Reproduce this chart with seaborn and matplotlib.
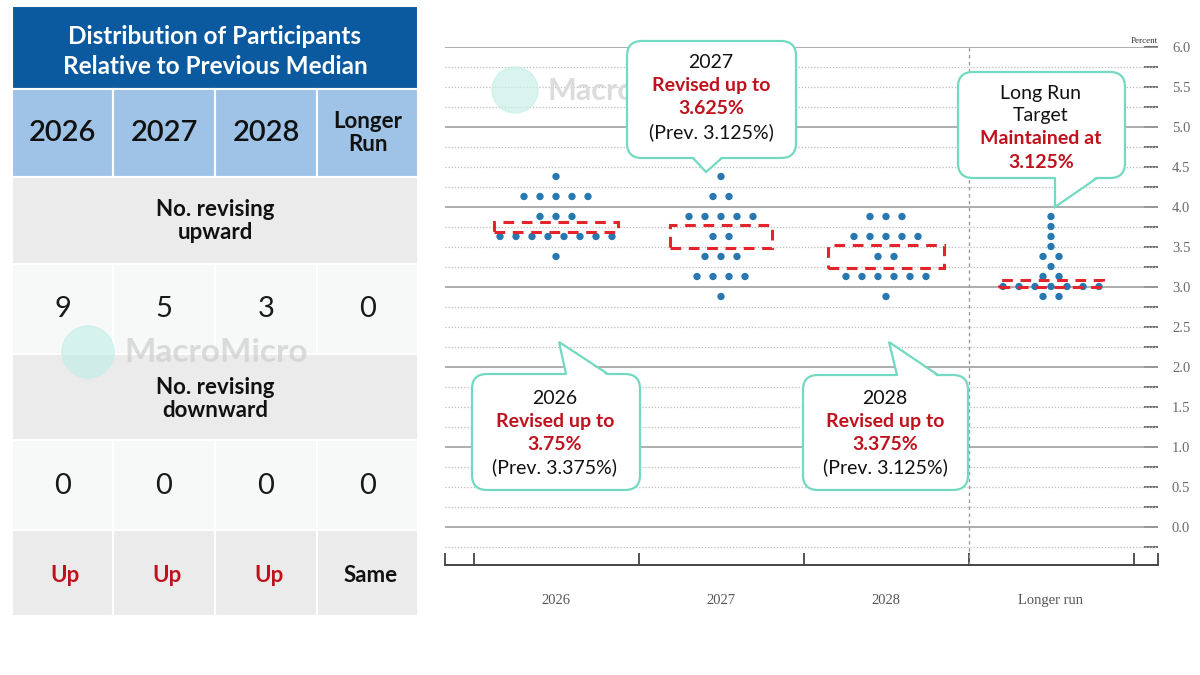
import numpy as np
import pandas as pd
import seaborn as sns
import matplotlib.pyplot as plt
from matplotlib.patches import FancyBboxPatch, Rectangle, Polygon, Circle

# ---- table data ----
years = ["2026", "2027", "2028", "Longer\nRun"]
up_counts = [9, 5, 3, 0]
down_counts = [0, 0, 0, 0]
direction = ["Up", "Up", "Up", "Same"]

# ---- dot plot data (rate level -> number of participants) ----
categories = ["2026", "2027", "2028", "Longer run"]
rates_2026 = [4.375, 4.125, 3.875, 3.625, 3.375]
counts_2026 = [1, 5, 3, 8, 1]
rates_2027 = [4.375, 4.125, 3.875, 3.625, 3.375, 3.125, 2.875]
counts_2027 = [1, 2, 5, 2, 3, 4, 1]
rates_2028 = [3.875, 3.625, 3.375, 3.125, 2.875]
counts_2028 = [3, 5, 2, 6, 1]
rates_lr = [3.875, 3.75, 3.625, 3.5, 3.375, 3.25, 3.125, 3.0, 2.875]
counts_lr = [1, 1, 1, 1, 2, 1, 2, 7, 2]
median_box = [3.75, 3.625, 3.375, 3.04]

# ---- callout texts ----
note_2026 = ["2026", "Revised up to", "3.75%", "(Prev. 3.375%)"]
note_2027 = ["2027", "Revised up to", "3.625%", "(Prev. 3.125%)"]
note_2028 = ["2028", "Revised up to", "3.375%", "(Prev. 3.125%)"]
note_lr = ["Long Run", "Target", "Maintained at", "3.125%"]

BLUE_DOT = "#2878b0"
RED = "#c0121c"
TEAL = "#72d9c3"

sns.set_theme(style="white")
plt.rcParams['font.family'] = ['Lato', 'DejaVu Sans']
SERIF = ['Liberation Serif', 'DejaVu Serif']

fig = plt.figure(figsize=(12, 6.75), dpi=100, facecolor='white')

# ---- dot plot ----
ax = fig.add_axes([445 / 1200, 1 - 565 / 675, (1158 - 445) / 1200, (565 - 46.5) / 675])
ax.set_facecolor('white')

gap = 16 / 165
recs = []
for i, (rates, counts) in enumerate(zip([rates_2026, rates_2027, rates_2028, rates_lr],
                                        [counts_2026, counts_2027, counts_2028, counts_lr])):
    for r, c in zip(rates, counts):
        for k in range(c):
            recs.append({"x": i + (k - (c - 1) / 2) * gap, "rate": r})
dots = pd.DataFrame(recs)

for v in np.arange(-0.25, 6.01, 0.25):
    if abs(v - round(v)) < 1e-9:
        ax.axhline(v, color='#a0a0a0', lw=1.2, zorder=1)
    else:
        ax.axhline(v, color='#bdbdbd', lw=0.9, ls=(0, (1, 1.5)), zorder=1)
ax.axvline(2.5, color='#9a9a9a', lw=1, ls=(0, (2.5, 2.5)), zorder=1)

sns.scatterplot(data=dots, x="x", y="rate", ax=ax, color=BLUE_DOT, s=28,
                edgecolor='none', zorder=3, legend=False)

half_w = [0.375, 0.31, 0.35, 0.315]
half_h = [0.0625, 0.14, 0.145, 0.045]
for i, m in enumerate(median_box):
    ax.add_patch(Rectangle((i - half_w[i], m - half_h[i]), 2 * half_w[i], 2 * half_h[i],
                           fill=False, ec='#e3242b', lw=2.2, ls=(0, (3.5, 2.5)), zorder=4))

ax.set_xlim((445 - 556) / 165, (1158 - 556) / 165)
ax.set_ylim(6 - (565 - 46.5) / 80, 6.0)
x0, x1 = ax.get_xlim()
ax.set_xticks([x0, -0.5, 0.5, 1.5, 2.5, 3.5, x1])
ax.set_xticklabels([])
ax.set_xticks(range(len(categories)), minor=True)
ax.set_xticklabels(categories, minor=True, fontfamily=SERIF, fontsize=10.5, color='#555555')
ax.tick_params(axis='x', which='major', direction='in', length=9, width=1.3, color='#444444', bottom=True)
ax.tick_params(axis='x', which='minor', length=0, pad=21)

ax.yaxis.tick_right()
ax.set_yticks(np.arange(0, 6.01, 0.5))
ax.set_yticklabels([f"{v:.1f}" for v in np.arange(0, 6.01, 0.5)], fontfamily=SERIF,
                   fontsize=10.5, color='#6a6a6a')
ax.set_yticks(np.arange(-0.25, 6.01, 0.25), minor=True)
ax.tick_params(axis='y', which='both', direction='in', length=10, width=1.3, color='#666666',
               right=True, pad=10)
ax.set_xlabel("")
ax.set_ylabel("")
for s in ['top', 'left', 'right']:
    ax.spines[s].set_visible(False)
ax.spines['bottom'].set_color('#444444')
ax.spines['bottom'].set_linewidth(1.4)
ax.text(x1, 6.02, "Percent", fontfamily=SERIF, fontsize=6.5, color='#333333',
        ha='right', va='bottom')

# ---- overlay in pixel coordinates ----
ov = fig.add_axes([0, 0, 1, 1])
ov.set_xlim(0, 1200)
ov.set_ylim(675, 0)
ov.axis('off')
ov.patch.set_alpha(0)

# watermark behind the 2027 callout
ov.add_patch(Circle((515, 90), 23, color='#c9efe8', alpha=0.7, zorder=1))
ov.text(547, 91, "Macro", fontsize=22, fontweight='bold', color='#dcdcdc',
        ha='left', va='center', zorder=1)

# table
col_x = [12, 113, 215, 317, 418]
row_y = [6, 89, 177, 264, 354, 440, 530, 616]
row_col = ['#0b5a9f', '#9fc3e6', '#ebebeb', '#f7f8f8', '#ebebeb', '#f7f8f8', '#ebebeb']
merged = [True, False, True, False, True, False, False]
for r in range(7):
    ya, yb = row_y[r], row_y[r + 1]
    if merged[r]:
        ov.add_patch(Rectangle((col_x[0], ya), col_x[-1] - col_x[0], yb - ya,
                               fc=row_col[r], ec='white', lw=1.5, zorder=2))
    else:
        for c in range(4):
            ov.add_patch(Rectangle((col_x[c], ya), col_x[c + 1] - col_x[c], yb - ya,
                                   fc=row_col[r], ec='white', lw=1.5, zorder=2))

ov.text(215, 36, "Distribution of Participants", fontsize=17.5, fontweight='bold',
        color='white', ha='center', va='center', zorder=3)
ov.text(215, 66, "Relative to Previous Median", fontsize=17.5, fontweight='bold',
        color='white', ha='center', va='center', zorder=3)
ov.text(215, 221, "No. revising\nupward", fontsize=16, fontweight='bold',
        ha='center', va='center', color='#111111', linespacing=1.15, zorder=3)
ov.text(215, 399, "No. revising\ndownward", fontsize=16, fontweight='bold',
        ha='center', va='center', color='#111111', linespacing=1.15, zorder=3)
for c in range(4):
    cx = (col_x[c] + col_x[c + 1]) / 2
    if "\n" in years[c]:
        ov.text(cx, 133, years[c], fontsize=16, fontweight='bold', ha='center',
                va='center', color='#111111', linespacing=1.1, zorder=3)
    else:
        ov.text(cx, 133, years[c], fontsize=21, fontweight='semibold', ha='center',
                va='center', color='#111111', zorder=3)
    ov.text(cx, 309, str(up_counts[c]), fontsize=21, ha='center', va='center',
            color='#1a1a1a', zorder=3)
    ov.text(cx, 486, str(down_counts[c]), fontsize=21, ha='center', va='center',
            color='#1a1a1a', zorder=3)
    ov.text(cx + 3, 575, direction[c], fontsize=16, fontweight='bold', ha='center',
            va='center', color=RED if direction[c] == "Up" else '#111111', zorder=3)

ov.add_patch(Circle((88, 352), 26, color='#bfeee6', alpha=0.6, zorder=4))
ov.text(124, 352, "MacroMicro", fontsize=24, fontweight='bold', color='#d0d0d0',
        alpha=0.75, ha='left', va='center', zorder=4)


def callout(box, tail, lines, colors, weights, cx, y_first):
    bx0, by0, bx1, by1 = box
    ov.add_patch(FancyBboxPatch((bx0, by0), bx1 - bx0, by1 - by0,
                                boxstyle="round,pad=0,rounding_size=15",
                                fc='white', ec=TEAL, lw=1.6, zorder=5))
    (ax0, ay0), tip, (ax1, ay1) = tail
    inward = 2 if tip[1] < by0 else -2
    ov.add_patch(Polygon([(ax0, ay0 + inward), tip, (ax1, ay1 + inward)],
                         closed=True, fc='white', ec='none', zorder=6))
    ov.plot([ax0, tip[0], ax1], [ay0, tip[1], ay1], color=TEAL, lw=1.6, zorder=7,
            solid_joinstyle='miter')
    for j, (t, col, w) in enumerate(zip(lines, colors, weights)):
        ov.text(cx, y_first + 23 * j, t, fontsize=14, color=col, fontweight=w,
                ha='center', va='center', zorder=8)


std_cols = ['#111111', RED, RED, '#111111']
std_w = ['normal', 'bold', 'bold', 'normal']
callout((472, 374, 640, 490), [(566, 374), (559, 342), (608, 374)],
        note_2026, std_cols, std_w, 555, 398)
callout((803, 375, 968, 490), [(897, 375), (889, 342), (938, 375)],
        note_2028, std_cols, std_w, 885, 398)
callout((627, 41, 796, 158), [(693, 158), (706, 172), (722, 158)],
        note_2027, std_cols, std_w, 711, 63)
callout((958, 72, 1125, 178), [(1055, 178), (1055, 207), (1097, 178)],
        note_lr, ['#111111', '#111111', RED, RED], ['normal', 'normal', 'bold', 'bold'],
        1041, 93)

fig.savefig("out.png", dpi=100, facecolor='white')
